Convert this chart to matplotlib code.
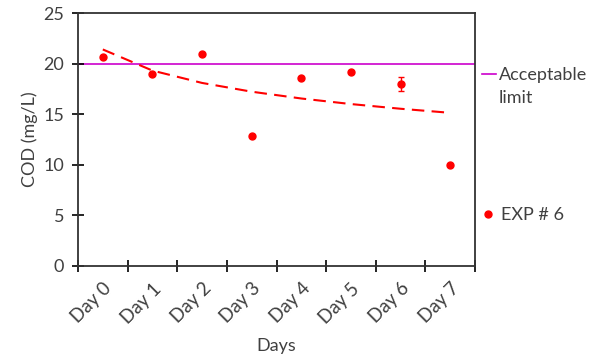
import matplotlib.pyplot as plt
import matplotlib.lines as mlines
import numpy as np

plt.rcParams['font.family'] = ['Lato', 'DejaVu Sans']

dias = ['Day 0', 'Day 1', 'Day 2', 'Day 3', 'Day 4', 'Day 5', 'Day 6', 'Day 7']
cod = [20.65, 19.0, 20.95, 12.85, 18.6, 19.2, 18.0, 10.0]
erro = [0, 0, 0, 0, 0, 0, 0.7, 0]
limite = 20

x = np.arange(len(dias))

# linha de tendencia logaritmica (estilo Excel, x = 1..n)
a, b = np.polyfit(np.log(x + 1), cod, 1)
tendencia = a * np.log(x + 1) + b

cor_txt = '#404040'
fs = 13

fig = plt.figure(figsize=(5.94, 3.55), dpi=100)
ax = fig.add_axes([78 / 594, 1 - 266 / 355, 397 / 594, 253 / 355])

ax.axhline(limite, color='#CC00CC', lw=1.2, zorder=1)
ax.plot(x, tendencia, color='red', ls=(0, (6, 3.5)), lw=1.5, zorder=2)
ax.errorbar(x, cod, yerr=erro, fmt='o', color='red', ms=5, elinewidth=1,
            capsize=2, capthick=1, zorder=3)

ax.set_xlim(-0.5, len(dias) - 0.5)
ax.set_ylim(0, 25)
ax.set_yticks([0, 5, 10, 15, 20, 25])
ax.set_xticks(np.arange(-0.5, len(dias), 1), minor=False)
ax.set_xticklabels([])
ax.set_xticks(x, minor=True)
ax.set_xticklabels(dias, minor=True, rotation=45, ha='right', va='top',
                   rotation_mode='anchor', fontsize=13.5, color=cor_txt)
ax.tick_params(axis='x', which='minor', length=0, pad=10)
ax.tick_params(axis='x', which='major', direction='inout', length=8, width=1.2)
ax.tick_params(axis='y', direction='inout', length=8, width=1.2, labelsize=fs,
               labelcolor=cor_txt, pad=6)
for s in ax.spines.values():
    s.set_linewidth(1.3)
    s.set_color('#333333')

ax.set_ylabel('COD (mg/L)', fontsize=fs, color=cor_txt, labelpad=4)
ax.set_xlabel('Days', fontsize=fs, color=cor_txt, labelpad=8)

h1 = mlines.Line2D([], [], color='#CC00CC', lw=1.2)
h2 = mlines.Line2D([], [], color='red', marker='o', ls='none', ms=5)
fig.legend([h1], ['Acceptable'], loc='center left',
           bbox_to_anchor=(482 / 594, 1 - 75 / 355), frameon=False,
           fontsize=fs, handlelength=0.8, handletextpad=0.15,
           labelcolor=cor_txt, borderaxespad=0, borderpad=0)
fig.text(499 / 594, 1 - 98 / 355, 'limit', fontsize=fs, color=cor_txt,
         ha='left', va='center')
fig.legend([h2], ['EXP # 6'], loc='center left',
           bbox_to_anchor=(481 / 594, 1 - 215 / 355), frameon=False,
           fontsize=fs, handlelength=0.8, handletextpad=0.3,
           labelcolor=cor_txt, borderaxespad=0, borderpad=0)

fig.savefig('out.png', dpi=100)
